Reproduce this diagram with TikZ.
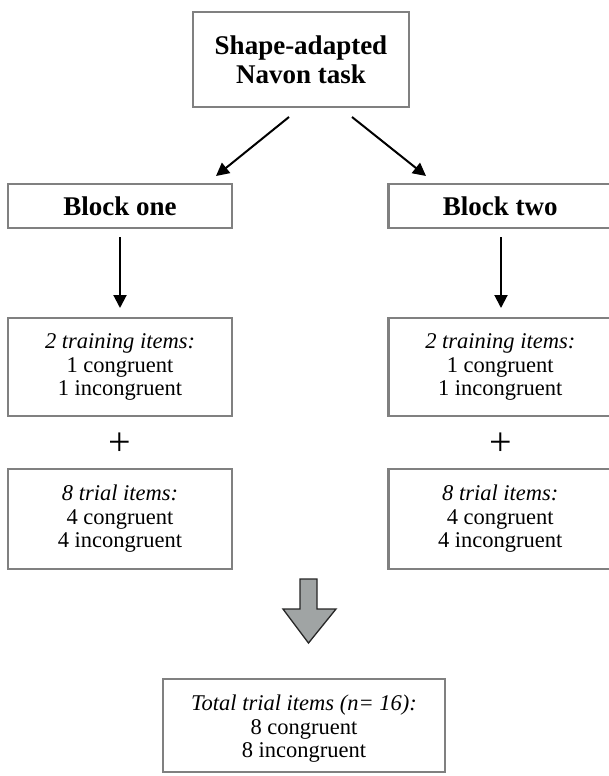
\documentclass[tikz,border=0pt]{standalone}
\usepackage{fontspec}
\setmainfont{Liberation Serif}
\usetikzlibrary{arrows.meta}
\definecolor{boxgray}{RGB}{128,128,128}
\definecolor{fillgray}{RGB}{160,164,164}
\tikzset{
  box/.style={draw=boxgray, line width=2.5pt, fill=white, inner sep=0pt, align=center},
  conn/.style={line width=2pt, -{Triangle[length=13pt,width=13pt]}},
  bodytext/.style={font=\fontsize{22.5}{23.5}\selectfont},
  headtext/.style={font=\fontsize{27}{29}\selectfont\bfseries},
  plussign/.style={font=\fontsize{40}{40}\selectfont, inner sep=0pt},
}
\begin{document}
\begin{tikzpicture}[x=1pt,y=-1pt]
\useasboundingbox (0,0) rectangle (608,776);
\node[box, headtext, minimum width=216pt, minimum height=95pt] (top) at (301,59.5) {Shape-adapted\\Navon task};
\node[box, headtext, minimum width=224pt, minimum height=44pt] (b1) at (120,206) {Block one};
\node[box, headtext, minimum width=224pt, minimum height=44pt, anchor=west] (b2) at (387,206) {Block two};
\node[box, bodytext, minimum width=224pt, minimum height=98pt] (t1) at (120,367) {\textit{2 training items:}\\1 congruent\\1 incongruent};
\node[box, bodytext, minimum width=224pt, minimum height=98pt, anchor=west] (t2) at (387,367) {\textit{2 training items:}\\1 congruent\\1 incongruent};
\node[plussign] (p1) at (120,444) {+};
\node[plussign] (p2) at (501,444) {+};
\node[box, bodytext, minimum width=224pt, minimum height=100pt] (r1) at (120,519) {\textit{8 trial items:}\\4 congruent\\4 incongruent};
\node[box, bodytext, minimum width=224pt, minimum height=100pt, anchor=west] (r2) at (387,519) {\textit{8 trial items:}\\4 congruent\\4 incongruent};
\node[box, minimum width=282pt, minimum height=93pt] (tot) at (304,725.5) {};
\node[bodytext, align=center, inner sep=0pt] (totText) at (304,729) {\textit{Total trial items (n= 16):}\\8 congruent\\8 incongruent};
\coordinate (a1s) at (289,117);
\coordinate (a1e) at (216,176);
\coordinate (a2s) at (352,117);
\coordinate (a2e) at (426,176);
\draw[conn] (a1s) -- (a1e);
\draw[conn] (a2s) -- (a2e);
\draw[conn] (120,237) -- (120,308);
\draw[conn] (501,237) -- (501,308);
\draw[draw=black!85, line width=1.3pt, fill=fillgray, line join=miter]
  (300,579) -- (317,579) -- (317,609) -- (336,609) -- (308.5,643) -- (283,609) -- (300,609) -- cycle;
\end{tikzpicture}
\end{document}
